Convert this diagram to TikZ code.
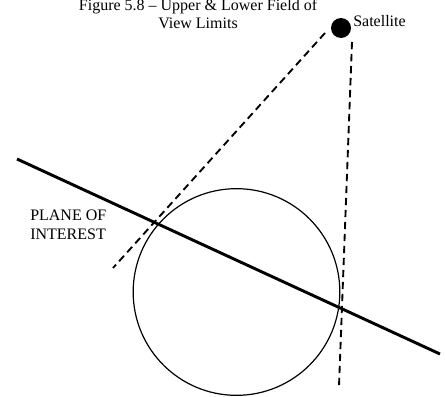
\documentclass[tikz,border=0pt]{standalone}
\usepackage{fontspec}
\setmainfont{Liberation Serif}
\begin{document}
\begin{tikzpicture}[x=0.75pt, y=-0.75pt,
    txt/.style={inner sep=0pt, font=\fontsize{12}{13.8}\selectfont},
    fov/.style={line width=1.4pt, dash pattern=on 5.5pt off 3.5pt},
    plane/.style={line width=2.2pt}]
    \useasboundingbox (0,0) rectangle (445,396);

    % 标题
    \node[txt, align=center, anchor=base] (title) at (198,28.5)
        {Figure 5.8 -- Upper \& Lower Field of\\View Limits};

    % 卫星
    \node[circle, fill=black, minimum size=15pt, inner sep=0pt] (sat) at (341,28) {};
    \node[txt, anchor=base west] (satlabel) at (353,26) {Satellite};

    % 地球（圆）
    \node[circle, draw, line width=0.9pt, minimum size=155pt, inner sep=0pt] (earth) at (236.5,292) {};

    % 视场上下界（虚线）
    \coordinate (upA) at (325,33);
    \coordinate (upB) at (113,268);
    \coordinate (lowA) at (352,42);
    \coordinate (lowB) at (339,386);
    \draw[fov] (upA) -- (upB);
    \draw[fov] (lowA) -- (lowB);

    % 感兴趣平面
    \coordinate (planeA) at (17,159);
    \coordinate (planeB) at (440,354);
    \draw[plane] (planeA) -- (planeB);
    \node[txt, align=left, anchor=base west] (planelabel) at (30,239)
        {PLANE OF\\INTEREST};
\end{tikzpicture}
\end{document}
